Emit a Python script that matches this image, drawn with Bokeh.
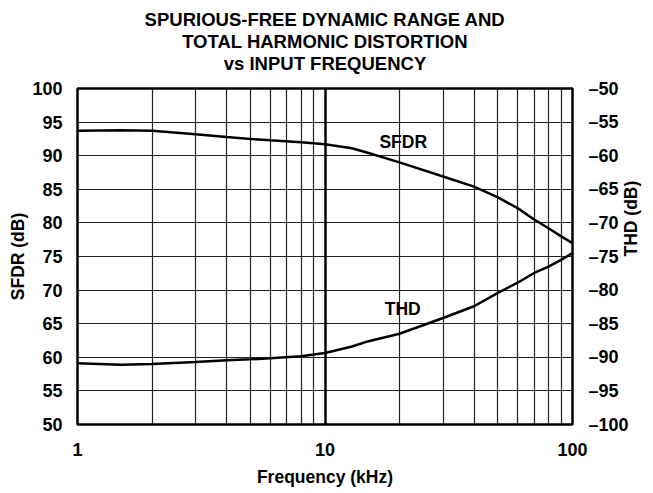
import math
from bokeh.plotting import figure
from bokeh.models import Range1d, LinearAxis, FixedTicker, Grid, Title, CustomJSTickFormatter
from bokeh.core.properties import value
from bokeh.embed import file_html
from bokeh.resources import INLINE

# ---- data ----
freq = [1, 1.5, 2, 3, 4, 5, 6, 8, 10, 12.85, 15, 20, 30, 40, 50, 60, 70, 80, 90, 100]
sfdr_db = [93.7, 93.8, 93.7, 93.2, 92.8, 92.5, 92.3, 92.0, 91.7, 91.1, 90.4, 89.0,
           86.9, 85.4, 83.8, 82.2, 80.5, 79.2, 78.0, 77.0]
thd_db = [-90.9, -91.1, -91.0, -90.7, -90.45, -90.3, -90.15, -89.85, -89.35, -88.4,
          -87.6, -86.5, -84.15, -82.4, -80.4, -78.9, -77.45, -76.5, -75.5, -74.5]
x_ticks = [1, 10, 100]
x_minor = [2, 3, 4, 5, 6, 7, 8, 9, 20, 30, 40, 50, 60, 70, 80, 90]
sfdr_ticks = [50, 55, 60, 65, 70, 75, 80, 85, 90, 95, 100]
thd_ticks = [-100, -95, -90, -85, -80, -75, -70, -65, -60, -55, -50]
title_lines = ["SPURIOUS-FREE DYNAMIC RANGE AND", "TOTAL HARMONIC DISTORTION", "vs INPUT FREQUENCY"]
curve_labels = ["SFDR", "THD"]
label_x = [20.7, 20.6]
label_sfdr_y = [92.1]
label_thd_y = [-82.8]
x_title = "Frequency (kHz)"
left_title = "SFDR (dB)"
right_title = "THD (dB)"

FONT = "Liberation Sans"

p = figure(width=653, height=493, x_axis_type="log", x_range=(1, 100), y_range=(50, 100),
           output_backend="svg", toolbar_location=None,
           min_border_left=0, min_border_right=0, min_border_top=0, min_border_bottom=0)
p.extra_y_ranges = {"thd": Range1d(-100, -50)}

# spacer, titles (nearest to farthest), spacer
p.add_layout(Title(text=" ", standoff=12, text_font_size="1px"), "above")
for t in reversed(title_lines):
    p.add_layout(Title(text=t, align="center", text_font=FONT, text_font_size="18.5px",
                       text_font_style="bold", text_color="black", text_line_height=1.0,
                       standoff=-1, offset=0), "above")
p.add_layout(Title(text=" ", standoff=4, text_font_size="1px"), "above")

def style_axis(ax):
    ax.major_tick_line_color = None
    ax.minor_tick_line_color = None
    ax.major_tick_out = 0
    ax.major_tick_in = 0
    ax.minor_tick_out = 0
    ax.minor_tick_in = 0
    ax.axis_line_color = None
    ax.major_label_text_font = FONT
    ax.major_label_text_font_size = "18px"
    ax.major_label_text_font_style = "bold"
    ax.major_label_text_color = "black"
    ax.major_label_text_line_height = 1.0
    ax.axis_label_text_font = FONT
    ax.axis_label_text_font_size = "17.5px"
    ax.axis_label_text_font_style = "bold"
    ax.axis_label_text_color = "black"
    ax.axis_label_text_line_height = 1.0
    ax.major_label_standoff = 15

xa = p.xaxis[0]
style_axis(xa)
xa.ticker = FixedTicker(ticks=x_ticks, minor_ticks=[])
xa.formatter = CustomJSTickFormatter(code="return String(Math.round(tick));")
xa.major_label_standoff = 18
p.add_layout(Title(text=x_title, align="center", text_font=FONT, text_font_size="17.5px",
                   text_font_style="bold", text_color="black", text_line_height=1.0,
                   standoff=13, offset=0), "below")

ya = p.yaxis[0]
style_axis(ya)
ya.ticker = FixedTicker(ticks=sfdr_ticks, minor_ticks=[])
ya.axis_label = left_title
ya.axis_label_standoff = 1
p.add_layout(Title(text=" ", standoff=2, text_font_size="1px"), "left")

ra = LinearAxis(y_range_name="thd", ticker=FixedTicker(ticks=thd_ticks, minor_ticks=[]))
style_axis(ra)
ra.major_label_standoff = 16
ra.formatter = CustomJSTickFormatter(code="return tick < 0 ? '\u2013' + Math.abs(tick) : String(tick);")
ra.axis_label = right_title
ra.axis_label_orientation = math.pi / 2
ra.axis_label_standoff = -1
p.add_layout(ra, "right")

# grids
p.xgrid.ticker = FixedTicker(ticks=x_minor, minor_ticks=[])
p.xgrid.grid_line_color = "#222222"
p.xgrid.grid_line_width = 1.2
p.ygrid.ticker = FixedTicker(ticks=sfdr_ticks[1:-1], minor_ticks=[])
p.ygrid.grid_line_color = "#222222"
p.ygrid.grid_line_width = 1.2
p.add_layout(Grid(dimension=0, ticker=FixedTicker(ticks=[10], minor_ticks=[]),
                  grid_line_color="black", grid_line_width=2.5))

p.outline_line_color = "black"
p.outline_line_width = 2.5

p.line(freq, sfdr_db, line_color="black", line_width=2.5)
p.line(freq, thd_db, line_color="black", line_width=2.5, y_range_name="thd")

p.text(x=label_x[:1], y=label_sfdr_y, text=curve_labels[:1], text_font=value(FONT),
       text_font_size="17.5px", text_font_style="bold", text_align="center",
       text_baseline="middle", text_color="black")
p.text(x=label_x[1:], y=label_thd_y, text=curve_labels[1:], text_font=value(FONT),
       text_font_size="17.5px", text_font_style="bold", text_align="center",
       text_baseline="middle", text_color="black", y_range_name="thd")

p.background_fill_color = "white"
p.border_fill_color = "white"

open("out.html", "w").write(file_html(p, INLINE))
